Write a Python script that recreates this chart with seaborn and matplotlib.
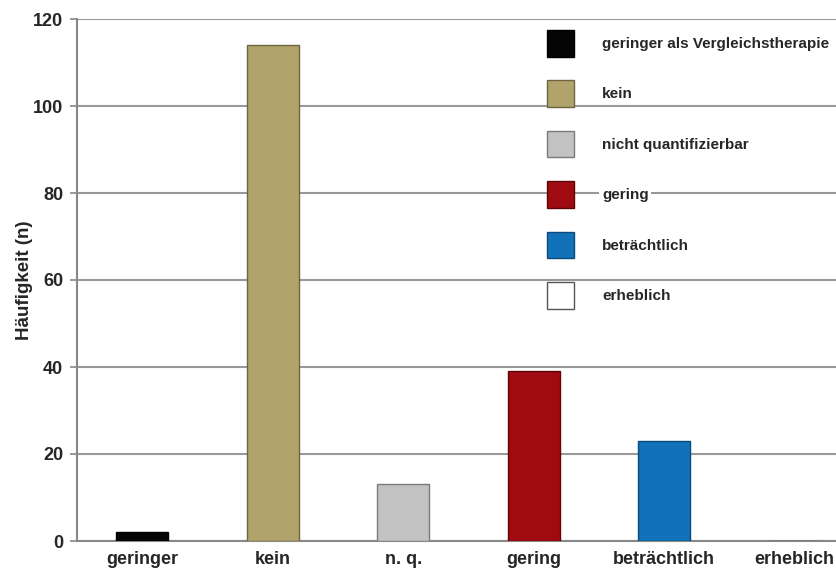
import matplotlib
matplotlib.use("Agg")
import matplotlib.pyplot as plt
import seaborn as sns
import pandas as pd
from matplotlib.patches import Patch

categories = ["geringer", "kein", "n. q.", "gering", "beträchtlich", "erheblich"]
values = [2, 114, 13, 39, 23, 0]
legend_labels = ["geringer als Vergleichstherapie", "kein", "nicht quantifizierbar",
                 "gering", "beträchtlich", "erheblich"]
colors = ["#050505", "#B0A46C", "#C2C2C2", "#A00B12", "#1172BA", "#FFFFFF"]
edges = ["#000000", "#6E6540", "#7A7A7A", "#5E0508", "#0B4A7A", "#555555"]
yticks = [0, 20, 40, 60, 80, 100, 120]

sns.set_theme(style="white")
plt.rcParams["font.family"] = ["Liberation Sans", "DejaVu Sans"]
plt.rcParams["font.weight"] = "bold"

fig = plt.figure(figsize=(8.36, 5.71), dpi=100)
W, H = 836, 571
# axes extends beyond the right edge of the figure (cropped like the reference)
ax = fig.add_axes([77 / W, 30 / H, 6 * 130.5 / W, (541 - 19) / H])

df = pd.DataFrame({"cat": categories, "val": values})
sns.barplot(data=df, x="cat", y="val", hue="cat", palette=colors, legend=False,
            width=0.4, saturation=1, ax=ax, zorder=3)
for p, ec in zip(ax.patches, edges):
    p.set_edgecolor(ec)
    p.set_linewidth(1.0)

ax.set_xlim(-0.5, 5.5)
ax.set_ylim(0, 120)
ax.set_yticks(yticks)
ax.set_yticklabels([str(v) for v in yticks], fontsize=13, fontweight="bold")
ax.set_xticks(range(len(categories)))
ax.set_xticklabels(categories, fontsize=13, fontweight="bold")
ax.set_xticks([i - 0.5 for i in range(len(categories) + 1)], minor=True)
ax.tick_params(axis="x", which="major", length=0, pad=7)
ax.tick_params(axis="x", which="minor", length=5, width=1.2, color="#888888", direction="out")
ax.tick_params(axis="y", length=5, width=1.2, color="#888888", direction="out", left=True, pad=5)
ax.set_xlabel("")
ax.set_ylabel("Häufigkeit (n)", fontsize=13.5, fontweight="bold", labelpad=0)

ax.grid(axis="y", color="#999999", linewidth=1.5, zorder=0)
ax.set_axisbelow(True)
for s in ["top", "right"]:
    ax.spines[s].set_visible(False)
for s in ["left", "bottom"]:
    ax.spines[s].set_color("#888888")
    ax.spines[s].set_linewidth(1.5)

handles = [Patch(facecolor=c, edgecolor=e, linewidth=1.0) for c, e in zip(colors, edges)]
axw = 6 * 130.5
leg = ax.legend(handles, legend_labels, loc="upper left",
                bbox_to_anchor=((547 - 77) / axw, 1 - (30 - 19) / 522),
                frameon=False, borderaxespad=0, borderpad=0,
                handlelength=1.75, handleheight=2.3, labelspacing=1.56,
                handletextpad=1.85, prop={"size": 11, "weight": "bold"})
for t in leg.get_texts():
    t.set_bbox(dict(facecolor="white", edgecolor="none", pad=2))

fig.savefig("out.png", dpi=100)
